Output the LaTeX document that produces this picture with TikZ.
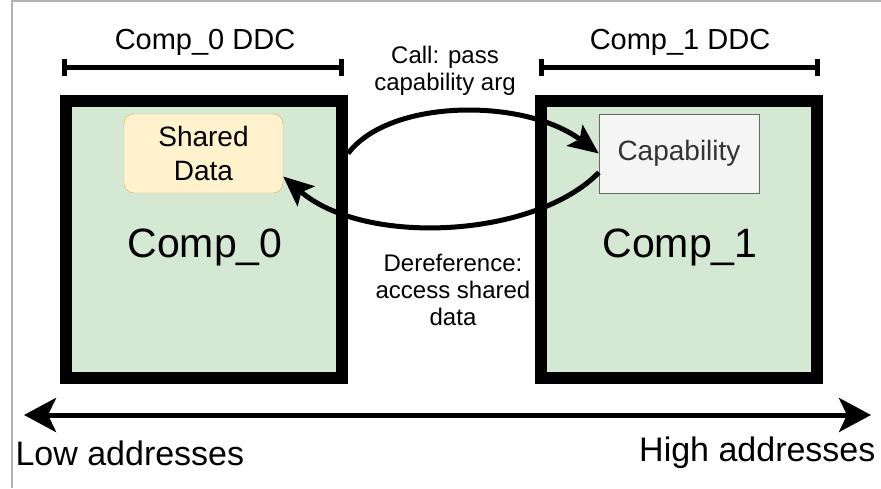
\documentclass[tikz,border=0pt]{standalone}
\usepackage{fontspec}
\setmainfont{Liberation Sans}
\usetikzlibrary{arrows.meta, calc}

\definecolor{compgreen}{HTML}{D5E8D4}
\definecolor{datafill}{HTML}{FFF2CC}
\definecolor{dataline}{HTML}{D6B656}
\definecolor{capfill}{HTML}{F5F5F5}
\definecolor{capline}{HTML}{666666}
\definecolor{captext}{HTML}{333333}

\begin{document}
\begin{tikzpicture}[x=1pt, y=-1pt,
  compbox/.style={draw, line width=12pt, fill=compgreen, minimum width=276pt, minimum height=277pt},
  ddc/.style={line width=5pt, {Bar[width=17pt]}-{Bar[width=17pt]}},
  flow/.style={line width=5pt, -{Stealth[length=30pt, width=26pt, inset=6pt]}}]
\useasboundingbox (0,0) rectangle (881,488);
% Draw frame
\draw[gray!60, line width=1.5pt] (12,488) -- (12,1) -- (881,1);
% Draw compartments
\node[compbox] (comp0) at (204,239.5) {};
\node[compbox] (comp1) at (679,239.5) {};
\node[font=\fontsize{41}{49}\selectfont] (comp0label) at (205,247) {Comp\_0};
\node[font=\fontsize{41}{49}\selectfont] (comp1label) at (680,247) {Comp\_1};
% Draw shared data and capability
\node[draw=dataline, fill=datafill, rounded corners=10pt, minimum width=159pt, minimum height=79pt,
  align=center, font=\fontsize{28}{34}\selectfont] (shared) at (203.5,153.5) {Shared\\Data};
\node[draw=capline, fill=capfill, text=captext, minimum width=160pt, minimum height=79pt,
  font=\fontsize{28}{34}\selectfont] (cap) at (679,153.5) {Capability};
% Draw DDC ranges
\draw[ddc] (62,67) coordinate (ddc0a) -- (344,67) coordinate (ddc0b);
\draw[ddc] (539,67) coordinate (ddc1a) -- (820,67) coordinate (ddc1b);
\node[font=\fontsize{29}{35}\selectfont] (ddc0label) at (205,42) {Comp\_0 DDC};
\node[font=\fontsize{29}{35}\selectfont] (ddc1label) at (680,42) {Comp\_1 DDC};
% Draw call and dereference
\draw[flow] (comp0.east |- shared) .. controls (390,98) and (525,98) .. (cap.west);
\draw[flow] ([yshift=-19pt]cap.west) .. controls (535,238) and (365,247) .. ([yshift=-23pt]shared.east);
\node[align=center, font=\fontsize{24}{27}\selectfont] (calllabel) at (445,71) {Call: pass\\capability arg};
\node[align=center, font=\fontsize{24}{27}\selectfont] (dereflabel) at (453,290) {Dereference:\\access shared\\data};
% Draw address axis
\coordinate (low) at (24,415);
\coordinate (high) at (871,415);
\draw[line width=5pt, {Stealth[length=32pt, width=34pt, inset=8pt]}-{Stealth[length=32pt, width=34pt, inset=8pt]}] (low) -- (high);
\node[anchor=west, font=\fontsize{34}{41}\selectfont] (lowlabel) at (12,453) {Low addresses};
\node[anchor=east, font=\fontsize{34}{41}\selectfont] (highlabel) at (879,453) {High addresses};
\end{tikzpicture}
\end{document}
